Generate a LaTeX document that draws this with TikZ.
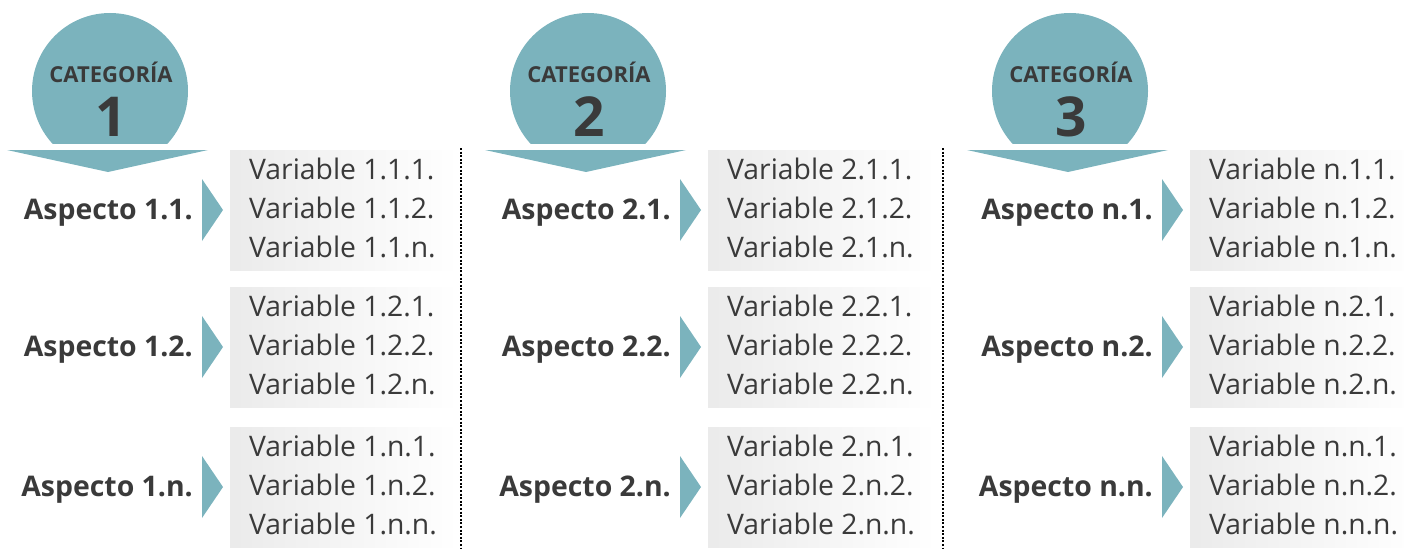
\documentclass[tikz,border=0pt]{standalone}
\usepackage{fontspec}
\setmainfont{Open Sans}
\definecolor{tealc}{HTML}{7BB3BD}
\definecolor{txt}{HTML}{3A3A3A}
\tikzset{
  catlabel/.style={text=txt, inner sep=0pt, font=\bfseries\fontsize{22}{22}\selectfont},
  catnum/.style={text=txt, inner sep=0pt, font=\bfseries\fontsize{55}{55}\selectfont},
  asplabel/.style={text=txt, inner sep=0pt, anchor=base east, font=\bfseries\fontsize{28.4}{28.4}\selectfont},
  varlabel/.style={text=txt, inner sep=0pt, anchor=base west, font=\fontsize{28.3}{28.3}\selectfont},
  varbox/.style={left color=black!8, right color=white, draw=none},
  pointer/.style={fill=tealc, draw=none},
  sep/.style={line width=2pt, dash pattern=on 2pt off 1.6pt, black}
}
\begin{document}
\begin{tikzpicture}[x=1pt,y=-1pt]
\useasboundingbox (0,0) rectangle (1404,551);
\foreach \dx/\c/\l in {0/1/1, 478/2/2, 960/3/n}{
  \begin{scope}
    \clip (\dx+20,0) rectangle (\dx+200,143);
    \fill[tealc] (\dx+110,91) circle (78);
  \end{scope}
  \node[catlabel, anchor=base] (cat-\c) at (\dx+111,82) {CATEGORÍA};
  \node[catnum, anchor=base] (num-\c) at (\dx+111,136) {\c};
  \fill[pointer] (\dx+7,150) -- (\dx+208,150) -- (\dx+108,172) -- cycle;
  \foreach \yc/\r in {210/1, 347/2, 487/n}{
    \shade[varbox] (\dx+230,\yc-60) rectangle (\dx+458,\yc+60);
    \fill[pointer] (\dx+202,\yc-31) -- (\dx+223,\yc) -- (\dx+202,\yc+31) -- cycle;
    \node[asplabel] (asp-\c-\r) at (\dx+193,\yc+9.5) {Aspecto \l.\r.};
    \node[varlabel] (var-\c-\r-1) at (\dx+249,\yc-31) {Variable \l.\r.1.};
    \node[varlabel] (var-\c-\r-2) at (\dx+249,\yc+8) {Variable \l.\r.2.};
    \node[varlabel] (var-\c-\r-n) at (\dx+249,\yc+47) {Variable \l.\r.n.};
  }
}
\coordinate (s1t) at (461,148);
\coordinate (s1b) at (461,548);
\coordinate (s2t) at (943,148);
\coordinate (s2b) at (943,548);
\draw[sep] (s1t) -- (s1b);
\draw[sep] (s2t) -- (s2b);
\end{tikzpicture}
\end{document}
